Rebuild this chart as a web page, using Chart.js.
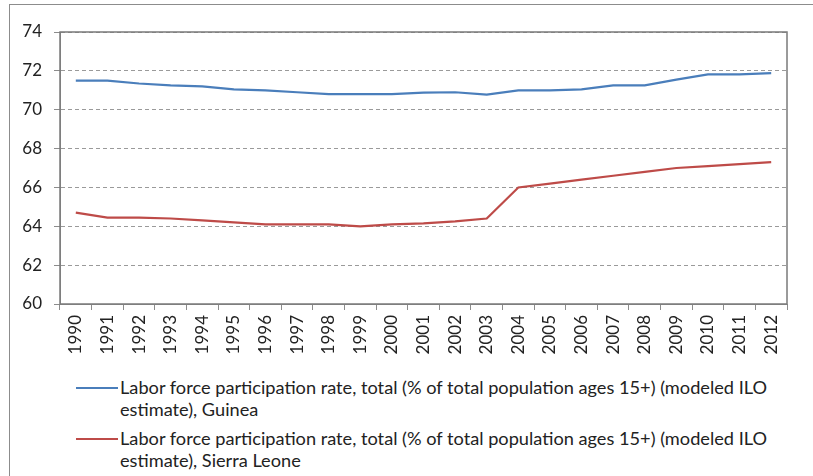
<html>
    <head>
        <script src="https://cdn.jsdelivr.net/npm/chart.js"></script>
        <title>Labor force participation</title>
        <style>
            body { margin: 0; background: #fff; overflow: hidden; }
            #frame { position: absolute; left: 9px; top: 4px; width: 900px; height: 600px; border: 1px solid #8c8c8c; }
            #wrap { position: absolute; left: 0; top: 0; }
            #legend { position: absolute; left: 76px; top: 376px; font-family: Lato, "Open Sans", sans-serif; font-size: 18.2px; color: #222; }
            .item { position: relative; padding-left: 44px; line-height: 22px; margin-bottom: 7px; width: 668px; }
            .item span { position: absolute; left: 0; top: 11px; width: 42px; height: 2px; }
        </style>
    </head>
    <body>
        <div id="frame"></div>
        <div id="wrap">
            <canvas id="myChart" width="813" height="372"></canvas>
        </div>
        <div id="legend"></div>
    </body>

    <script>
        // 연도 (x축)
        const years = ['1990','1991','1992','1993','1994','1995','1996','1997','1998','1999','2000','2001',
                       '2002','2003','2004','2005','2006','2007','2008','2009','2010','2011','2012'];
        // Guinea
        const guinea = [71.5, 71.5, 71.35, 71.25, 71.2, 71.05, 71.0, 70.9, 70.8, 70.8, 70.8, 70.88,
                        70.9, 70.78, 71.0, 71.0, 71.05, 71.25, 71.25, 71.55, 71.82, 71.82, 71.88];
        // Sierra Leone
        const sierraLeone = [64.7, 64.45, 64.45, 64.4, 64.3, 64.2, 64.1, 64.1, 64.1, 64.0, 64.1, 64.15,
                             64.25, 64.4, 66.0, 66.2, 66.4, 66.6, 66.8, 67.0, 67.1, 67.2, 67.3];
        const labelGuinea = 'Labor force participation rate, total (% of total population ages 15+) (modeled ILO estimate), Guinea';
        const labelSL = 'Labor force participation rate, total (% of total population ages 15+) (modeled ILO estimate), Sierra Leone';

        // 플롯 영역 테두리
        const framePlugin = {
            id: 'frame',
            afterDraw(chart) {
                const a = chart.chartArea, ctx = chart.ctx;
                ctx.save();
                ctx.strokeStyle = '#7a7a7a';
                ctx.lineWidth = 1.5;
                ctx.strokeRect(a.left, a.top, a.right - a.left, a.bottom - a.top);
                ctx.restore();
            }
        };

        const data = {
            labels: years,
            datasets: [{
                label: labelGuinea,
                borderColor: '#4a7ebb',
                data: guinea
            }, {
                label: labelSL,
                borderColor: '#be4b48',
                data: sierraLeone
            }]
        };

        const config = {
            type: 'line',
            data: data,
            options: {
                responsive: false,
                animation: false,
                layout: { padding: { left: 0, right: 26, top: 32, bottom: 0 } },
                elements: {
                    point: { radius: 0 },
                    line: { borderWidth: 2.2, tension: 0 }
                },
                plugins: { legend: { display: false }, tooltip: { enabled: false } },
                scales: {
                    x: {
                        offset: true,
                        grid: { offset: true, drawOnChartArea: false, drawTicks: true, tickLength: 6, color: '#8c8c8c' },
                        border: { color: '#8c8c8c' },
                        ticks: {
                            minRotation: 90, maxRotation: 90, autoSkip: false, padding: 5,
                            color: '#222', font: { family: 'Lato', size: 17 }
                        },
                        afterFit(scale) { scale.height = 68; }
                    },
                    y: {
                        min: 60, max: 74,
                        ticks: { stepSize: 2, padding: 12, color: '#222', font: { family: 'Lato', size: 17 } },
                        grid: { color: '#9a9a9a', tickLength: 6, tickColor: '#8c8c8c', tickBorderDash: [] },
                        border: { color: '#8c8c8c', dash: [4, 3] },
                        afterFit(scale) { scale.width = 60; }
                    }
                }
            },
            plugins: [framePlugin]
        };

        const myChart = new Chart(document.getElementById('myChart'), config);

        // 범례 (HTML)
        const legend = document.getElementById('legend');
        data.datasets.forEach((ds) => {
            const div = document.createElement('div');
            div.className = 'item';
            div.innerHTML = '<span style="background:' + ds.borderColor + '"></span>' + ds.label;
            legend.appendChild(div);
        });
    </script>
</html>
